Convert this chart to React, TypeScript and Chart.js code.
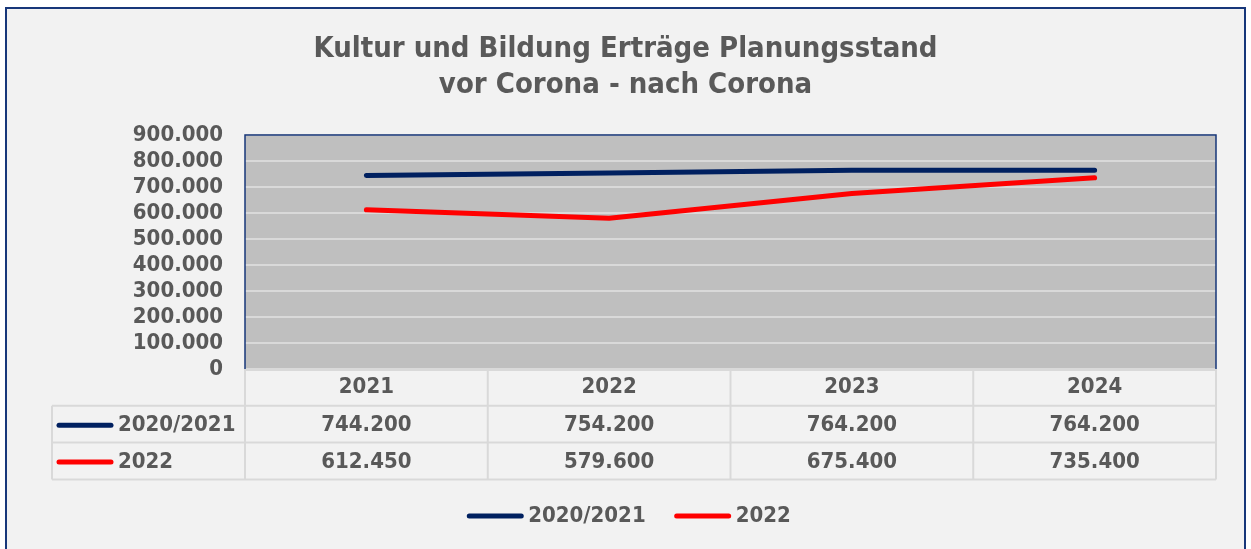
import React, { useEffect, useRef } from "react";
import { Chart, registerables } from "chart.js";

Chart.register(...registerables);

const titleLines = ["Kultur und Bildung Erträge Planungsstand", "vor Corona - nach Corona"];
const categories = ["2021", "2022", "2023", "2024"];
const seriesNames = ["2020/2021", "2022"];
const seriesColors = ["#002060", "#ff0000"];
const valuesVorCorona = [744200, 754200, 764200, 764200];
const valuesNachCorona = [612450, 579600, 675400, 735400];
const yMin = 0;
const yMax = 900000;
const yStep = 100000;

const FONT = "'DejaVu Sans Condensed', 'DejaVu Sans', sans-serif";
const TEXT = "#595959";
const NAVY = "#17377a";
const GRID = "#d9d9d9";

const fmt = (v: number) => String(Math.round(v)).replace(/\B(?=(\d{3})+(?!\d))/g, ".");

const decorPlugin = {
  id: "decor",
  beforeDraw(chart: any) {
    const ctx = chart.ctx as CanvasRenderingContext2D;
    const { left, top, right, bottom } = chart.chartArea;
    ctx.save();
    ctx.fillStyle = "#ffffff";
    ctx.fillRect(0, 0, chart.width, chart.height);
    ctx.fillStyle = "#f2f2f2";
    ctx.fillRect(6, 8, 1239, 560);
    ctx.strokeStyle = NAVY;
    ctx.lineWidth = 2;
    ctx.strokeRect(6, 8, 1239, 560);
    ctx.fillStyle = "#bfbfbf";
    ctx.fillRect(left, top, right - left, bottom - top);
    ctx.restore();
  },
  afterDraw(chart: any) {
    const ctx = chart.ctx as CanvasRenderingContext2D;
    const { left, top, right, bottom } = chart.chartArea;
    const xs = chart.scales.x;
    ctx.save();
    // title
    ctx.fillStyle = TEXT;
    ctx.font = `bold 29px ${FONT}`;
    ctx.textAlign = "center";
    ctx.textBaseline = "alphabetic";
    ctx.fillText(titleLines[0], 625.5, 57);
    ctx.fillText(titleLines[1], 625.5, 93);

    // plot frame
    ctx.strokeStyle = NAVY;
    ctx.lineWidth = 1.5;
    ctx.beginPath();
    ctx.moveTo(left, bottom + 1);
    ctx.lineTo(left, top);
    ctx.lineTo(right, top);
    ctx.lineTo(right, bottom + 1);
    ctx.stroke();

    // data table
    const rowH = 36.8;
    const tableLeft = 52;
    const y0 = bottom;
    const y1 = y0 + rowH;
    const y2 = y1 + rowH;
    const y3 = y2 + rowH;
    const n = categories.length;
    const bounds: number[] = [left];
    for (let i = 0; i < n - 1; i++) {
      bounds.push((xs.getPixelForTick(i) + xs.getPixelForTick(i + 1)) / 2);
    }
    bounds.push(right);

    ctx.strokeStyle = GRID;
    ctx.lineWidth = 2;
    ctx.beginPath();
    ctx.moveTo(left, y0 + 1);
    ctx.lineTo(right, y0 + 1);
    [y1, y2, y3].forEach((y) => {
      ctx.moveTo(tableLeft, y);
      ctx.lineTo(right, y);
    });
    ctx.moveTo(tableLeft, y1);
    ctx.lineTo(tableLeft, y3);
    bounds.forEach((x) => {
      ctx.moveTo(x, y0);
      ctx.lineTo(x, y3);
    });
    ctx.stroke();

    const rows = [valuesVorCorona, valuesNachCorona];
    ctx.font = `bold 22px ${FONT}`;
    ctx.textBaseline = "middle";
    rows.forEach((vals, r) => {
      const cy = (r === 0 ? (y1 + y2) / 2 : (y2 + y3) / 2) + 1;
      ctx.strokeStyle = seriesColors[r];
      ctx.lineWidth = 5;
      ctx.lineCap = "round";
      ctx.beginPath();
      ctx.moveTo(59, cy);
      ctx.lineTo(111, cy);
      ctx.stroke();
      ctx.fillStyle = TEXT;
      ctx.textAlign = "left";
      ctx.fillText(seriesNames[r], 118, cy);
      ctx.textAlign = "center";
      vals.forEach((v, i) => {
        ctx.fillText(fmt(v), xs.getPixelForTick(i), cy);
      });
    });

    // legend
    const keyW = 56;
    const keyGap = 5;
    const itemGap = 29;
    const widths = seriesNames.map((s) => ctx.measureText(s).width);
    const total = widths.reduce((a, w) => a + keyW + keyGap + w, 0) + itemGap * (seriesNames.length - 1);
    let x = 629 - total / 2;
    const ly = 516;
    seriesNames.forEach((s, i) => {
      ctx.strokeStyle = seriesColors[i];
      ctx.lineWidth = 5;
      ctx.lineCap = "round";
      ctx.beginPath();
      ctx.moveTo(x + 2, ly);
      ctx.lineTo(x + keyW - 2, ly);
      ctx.stroke();
      ctx.fillStyle = TEXT;
      ctx.textAlign = "left";
      ctx.fillText(s, x + keyW + keyGap, ly);
      x += keyW + keyGap + widths[i] + itemGap;
    });
    ctx.restore();
  },
};

export default function App() {
  const ref = useRef<HTMLCanvasElement>(null);
  useEffect(() => {
    if (!ref.current) return;
    const font = { family: FONT, size: 22, weight: "bold" as const, lineHeight: 1.0 };
    const chart = new Chart(ref.current, {
      type: "line",
      data: {
        labels: categories,
        datasets: [
          {
            label: seriesNames[0],
            data: valuesVorCorona,
            borderColor: seriesColors[0],
            backgroundColor: seriesColors[0],
            borderWidth: 5,
            pointRadius: 0,
            borderCapStyle: "round",
            borderJoinStyle: "round",
            tension: 0,
          },
          {
            label: seriesNames[1],
            data: valuesNachCorona,
            borderColor: seriesColors[1],
            backgroundColor: seriesColors[1],
            borderWidth: 5,
            pointRadius: 0,
            borderCapStyle: "round",
            borderJoinStyle: "round",
            tension: 0,
          },
        ],
      },
      options: {
        responsive: false,
        animation: false,
        layout: { padding: { left: 0, top: 135, right: 35, bottom: 0 } },
        plugins: {
          legend: { display: false },
          title: { display: false },
          tooltip: { enabled: false },
        },
        scales: {
          x: {
            offset: true,
            grid: { display: false, drawTicks: false },
            border: { display: false },
            ticks: { font: { ...font, lineHeight: 1.2 }, color: TEXT, padding: 5, maxRotation: 0 },
            afterFit: (s: any) => {
              s.height = 180;
            },
          },
          y: {
            min: yMin,
            max: yMax,
            ticks: {
              stepSize: yStep,
              autoSkip: false,
              callback: (v: any) => fmt(Number(v)),
              font,
              color: TEXT,
              padding: 22,
            },
            grid: { color: GRID, lineWidth: 2, drawTicks: false },
            border: { display: false },
            afterFit: (s: any) => {
              s.width = 245;
            },
          },
        },
      },
      plugins: [decorPlugin],
    });
    return () => chart.destroy();
  }, []);
  return (
    <div style={{ position: "fixed", left: 0, top: 0, width: 1251, height: 549 }}>
      <canvas ref={ref} width={1251} height={549} style={{ display: "block", width: 1251, height: 549 }} />
    </div>
  );
}
